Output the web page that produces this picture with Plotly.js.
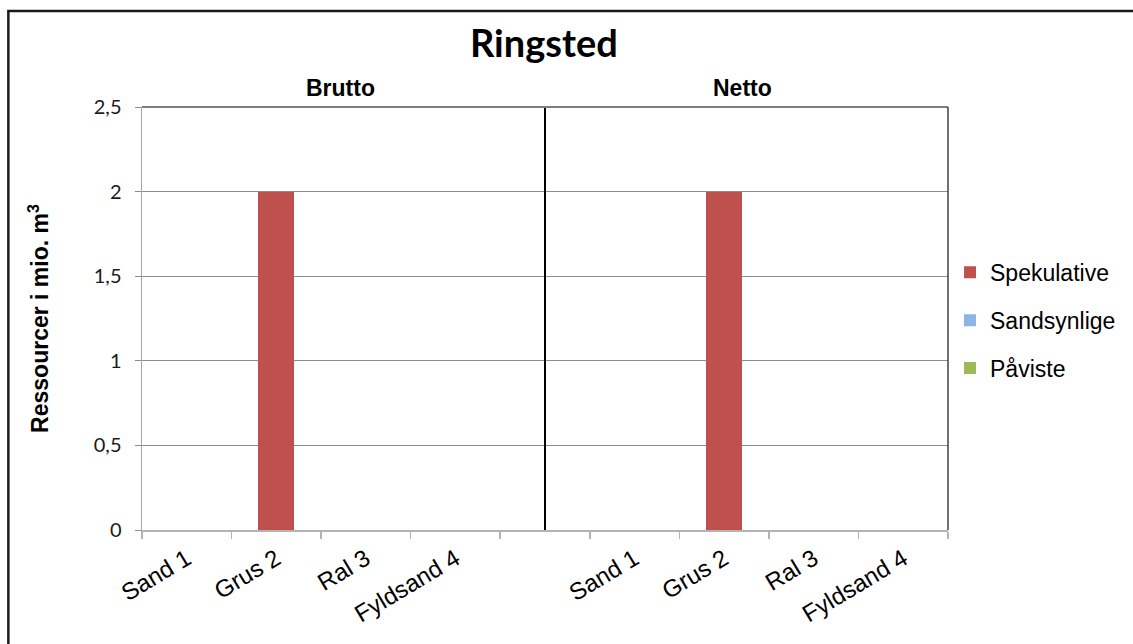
<!DOCTYPE html>
<html>
<head>
<meta charset="utf-8">
<script src="https://cdn.plot.ly/plotly-3.0.1.min.js"></script>
<style>
  html, body { margin: 0; padding: 0; background: #ffffff; }
  #chart { width: 1133px; height: 644px; }
</style>
</head>
<body>
<div id="chart"></div>
<script>
// Ringsted: resources per material type, gross (Brutto) and net (Netto)
const chartTitle = 'Ringsted';
const groups = ['Brutto', 'Netto'];
const materials = ['Sand 1', 'Grus 2', 'Ral 3', 'Fyldsand 4'];

// values in million m3, one array per series and group
const spekulativeBrutto = [0, 2, 0, 0];
const spekulativeNetto  = [0, 2, 0, 0];
const sandsynligeBrutto = [0, 0, 0, 0];
const sandsynligeNetto  = [0, 0, 0, 0];
const pavisteBrutto     = [0, 0, 0, 0];
const pavisteNetto      = [0, 0, 0, 0];

// stacked bottom to top; the legend lists them top to bottom
const seriesNames  = ['Påviste', 'Sandsynlige', 'Spekulative'];
const seriesColors = ['#9BBB59', '#8EB4E3', '#C0504D'];
const seriesValues = [
  [pavisteBrutto, pavisteNetto],
  [sandsynligeBrutto, sandsynligeNetto],
  [spekulativeBrutto, spekulativeNetto]
];

// Category slots: the two groups side by side with one empty slot between them
const slotsPerGroup = materials.length + 1;
const xPositions = [];
const xLabels = [];
groups.forEach((g, gi) => {
  materials.forEach((m, mi) => {
    xPositions.push(gi * slotsPerGroup + mi);
    xLabels.push(m);
  });
});
const slotCount = groups.length * slotsPerGroup - 1;
const separatorX = materials.length;           // the empty slot between groups
const boundaries = [];
for (let i = 0; i <= slotCount; i++) boundaries.push(i - 0.5);

const traces = seriesNames.map((name, si) => ({
  type: 'bar',
  name: name,
  legendgroup: name,
  legendrank: seriesNames.length - si,
  x: xPositions,
  y: [].concat(...seriesValues[si]),
  marker: { color: seriesColors[si], line: { width: 0 } },
  hoverinfo: 'x+y+name'
}));

const arial = 'Liberation Sans, Arial, sans-serif';

const layout = {
  width: 1133,
  height: 644,
  margin: { l: 142, r: 183, t: 107, b: 114 },
  paper_bgcolor: '#ffffff',
  plot_bgcolor: '#ffffff',
  separators: ',.',
  barmode: 'stack',
  bargap: 0.6,
  showlegend: true,
  title: {
    text: '<b>' + chartTitle + '</b>',
    font: { family: 'Lato, Open Sans, sans-serif', size: 38, color: '#000000' },
    x: 0.48, xanchor: 'center',
    y: 1 - 44 / 644, yanchor: 'middle'
  },
  xaxis: {
    range: [-0.5, slotCount - 0.5],
    tickmode: 'array',
    tickvals: xPositions,
    ticktext: xLabels,
    ticks: '',
    tickangle: -31,
    tickfont: { family: arial, size: 24, color: '#000000' },
    ticklabelstandoff: 4,
    showgrid: false,
    zeroline: false,
    showline: true,
    linecolor: '#b3b3b3',
    linewidth: 1.5,
    minor: {
      tickmode: 'array',
      tickvals: boundaries,
      ticks: 'outside',
      ticklen: 7,
      tickcolor: '#b3b3b3',
      tickwidth: 1.5,
      showgrid: false
    },
    fixedrange: true
  },
  yaxis: {
    range: [0, 2.5],
    tick0: 0,
    dtick: 0.5,
    ticks: 'outside',
    ticklen: 6,
    tickcolor: '#8c8c8c',
    tickfont: { family: 'Lato, sans-serif', size: 20, color: '#1a1a1a' },
    ticklabelstandoff: 9,
    showgrid: true,
    gridcolor: '#8c8c8c',
    gridwidth: 1,
    zeroline: false,
    showline: true,
    linecolor: '#a6a6a6',
    linewidth: 1.5,
    title: {
      text: '<b>Ressourcer i mio. m<sup>3</sup></b>',
      font: { family: arial, size: 23, color: '#000000' },
      standoff: 38
    },
    fixedrange: true
  },
  legend: {
    x: 1.0025, xanchor: 'left',
    y: 0.66, yanchor: 'top',
    traceorder: 'grouped',
    tracegroupgap: 15,
    font: { family: arial, size: 23, color: '#000000' },
    bgcolor: 'rgba(0,0,0,0)',
    itemclick: false
  },
  annotations: groups.map((g, gi) => ({
    text: '<b>' + g + '</b>',
    xref: 'paper', yref: 'paper',
    x: gi === 0 ? 0.246 : 0.745,
    y: 1.045,
    xanchor: 'center', yanchor: 'middle',
    showarrow: false,
    font: { family: arial, size: 23, color: '#000000' }
  })),
  shapes: [
    // separator between the Brutto and Netto groups
    { type: 'line', xref: 'x', yref: 'paper', x0: separatorX, x1: separatorX, y0: 0, y1: 1,
      line: { color: '#000000', width: 2 } },
    // plot area top and right edges
    { type: 'line', xref: 'paper', yref: 'paper', x0: 0, x1: 1, y0: 1, y1: 1,
      line: { color: '#7f7f7f', width: 2 } },
    { type: 'line', xref: 'paper', yref: 'paper', x0: 1, x1: 1, y0: 0, y1: 1,
      line: { color: '#404040', width: 1.5 } },
    // outer chart frame
    { type: 'rect', xref: 'paper', yref: 'paper', x0: -0.1658, x1: 1.26, y0: -0.32, y1: 1.227,
      line: { color: '#1a1a1a', width: 2.5 }, fillcolor: 'rgba(0,0,0,0)' }
  ]
};

Plotly.newPlot('chart', traces, layout, { displayModeBar: false, staticPlot: true });
</script>
</body>
</html>
